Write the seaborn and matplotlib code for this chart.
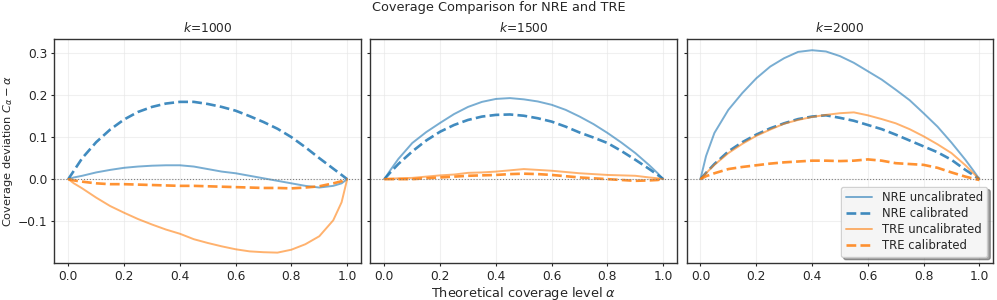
import numpy as np
import pandas as pd
import matplotlib
matplotlib.use("Agg")
import matplotlib.pyplot as plt
import seaborn as sns

alpha_grid = [0.0, 0.02, 0.05, 0.1, 0.15, 0.2, 0.25, 0.3, 0.35, 0.4, 0.45, 0.5,
              0.55, 0.6, 0.65, 0.7, 0.75, 0.8, 0.85, 0.9, 0.95, 0.98, 1.0]

k_values = [1000, 1500, 2000]

# k = 1000
nre_uncal_1000 = [0.0, 0.004, 0.008, 0.016, 0.022, 0.027, 0.030, 0.032, 0.033, 0.033, 0.030, 0.024,
                  0.018, 0.014, 0.008, 0.002, -0.004, -0.010, -0.016, -0.020, -0.016, -0.010, 0.0]
nre_cal_1000 = [0.0, 0.020, 0.05, 0.088, 0.118, 0.142, 0.160, 0.172, 0.180, 0.184, 0.184, 0.179,
                0.172, 0.163, 0.150, 0.136, 0.120, 0.100, 0.076, 0.050, 0.025, 0.010, 0.0]
tre_uncal_1000 = [0.0, -0.010, -0.022, -0.044, -0.064, -0.080, -0.095, -0.108, -0.120, -0.130, -0.143, -0.152,
                  -0.160, -0.167, -0.172, -0.174, -0.175, -0.168, -0.155, -0.136, -0.098, -0.055, 0.0]
tre_cal_1000 = [0.0, -0.003, -0.006, -0.010, -0.012, -0.012, -0.013, -0.014, -0.015, -0.016, -0.016, -0.017,
                -0.018, -0.019, -0.020, -0.021, -0.021, -0.022, -0.020, -0.017, -0.010, -0.005, 0.0]

# k = 1500
nre_uncal_1500 = [0.0, 0.020, 0.048, 0.086, 0.112, 0.134, 0.155, 0.172, 0.184, 0.191, 0.193, 0.190,
                  0.185, 0.177, 0.165, 0.149, 0.131, 0.110, 0.087, 0.062, 0.033, 0.014, 0.0]
nre_cal_1500 = [0.0, 0.015, 0.036, 0.066, 0.092, 0.113, 0.129, 0.141, 0.149, 0.153, 0.154, 0.151,
                0.145, 0.137, 0.125, 0.111, 0.099, 0.086, 0.067, 0.046, 0.024, 0.010, 0.0]
tre_uncal_1500 = [0.0, 0.001, 0.002, 0.003, 0.006, 0.009, 0.011, 0.015, 0.016, 0.018, 0.021, 0.024,
                  0.022, 0.020, 0.017, 0.014, 0.012, 0.010, 0.009, 0.008, 0.004, 0.002, 0.0]
tre_cal_1500 = [0.0, 0.0, 0.0, 0.000, 0.002, 0.004, 0.006, 0.008, 0.009, 0.010, 0.012, 0.013,
                0.012, 0.010, 0.007, 0.004, 0.002, 0.000, -0.002, -0.004, -0.003, -0.002, 0.0]

# k = 2000
nre_uncal_2000 = [0.0, 0.055, 0.110, 0.165, 0.205, 0.240, 0.268, 0.288, 0.303, 0.307, 0.304, 0.293,
                  0.277, 0.257, 0.237, 0.213, 0.188, 0.157, 0.125, 0.087, 0.046, 0.019, 0.0]
nre_cal_2000 = [0.0, 0.015, 0.036, 0.066, 0.088, 0.106, 0.121, 0.133, 0.143, 0.149, 0.152, 0.146,
                0.139, 0.129, 0.119, 0.106, 0.092, 0.078, 0.064, 0.046, 0.022, 0.009, 0.0]
tre_uncal_2000 = [0.0, 0.014, 0.034, 0.062, 0.084, 0.103, 0.118, 0.132, 0.141, 0.148, 0.153, 0.157,
                  0.159, 0.152, 0.143, 0.133, 0.119, 0.102, 0.083, 0.062, 0.033, 0.013, 0.0]
tre_cal_2000 = [0.0, 0.007, 0.014, 0.024, 0.029, 0.033, 0.037, 0.040, 0.042, 0.044, 0.044, 0.043,
                0.044, 0.047, 0.044, 0.038, 0.036, 0.034, 0.027, 0.016, 0.006, 0.001, -0.002]

series_labels = ["NRE uncalibrated", "NRE calibrated", "TRE uncalibrated", "TRE calibrated"]
panel_data = {
    1000: [nre_uncal_1000, nre_cal_1000, tre_uncal_1000, tre_cal_1000],
    1500: [nre_uncal_1500, nre_cal_1500, tre_uncal_1500, tre_cal_1500],
    2000: [nre_uncal_2000, nre_cal_2000, tre_uncal_2000, tre_cal_2000],
}

styles = [
    dict(color="#1f77b4", linestyle="-", linewidth=1.4, alpha=0.6),
    dict(color="#1f77b4", linestyle="--", linewidth=1.9, alpha=0.85),
    dict(color="#ff7f0e", linestyle="-", linewidth=1.4, alpha=0.6),
    dict(color="#ff7f0e", linestyle="--", linewidth=1.9, alpha=0.85),
]

sns.set_style("ticks")
plt.rcParams['font.family'] = ['DejaVu Sans']
plt.rcParams['axes.edgecolor'] = '#333333'

fig, axes = plt.subplots(1, 3, figsize=(9.97, 3.0), dpi=100, sharey=True)
fig.subplots_adjust(left=0.0545, right=0.9963, top=0.869, bottom=0.1243, wspace=0.0303)

for ax, k in zip(axes, k_values):
    for lab, vals, st in zip(series_labels, panel_data[k], styles):
        df = pd.DataFrame({"alpha": alpha_grid, "dev": vals})
        sns.lineplot(data=df, x="alpha", y="dev", ax=ax, label=lab, **st)
    ax.axhline(0.0, color="gray", linestyle=":", linewidth=0.8)
    ax.grid(True, color="#e6e6e6", linewidth=0.8, alpha=0.6)
    ax.set_title(f"$k$={k}", fontsize=8.8, pad=5)
    ax.set_xlabel("")
    ax.set_ylabel("")
    ax.set_xticks([0.0, 0.2, 0.4, 0.6, 0.8, 1.0])
    ax.tick_params(labelsize=8.8, length=2.5, pad=2.5)
    for sp in ax.spines.values():
        sp.set_linewidth(1.0)
    if ax is not axes[2]:
        leg = ax.get_legend()
        if leg is not None:
            leg.remove()

axes[0].set_ylim(-0.199, 0.333)
axes[0].set_yticks([-0.1, 0.0, 0.1, 0.2, 0.3])
axes[0].set_ylabel(r"Coverage deviation $C_\alpha - \alpha$", fontsize=8.2)
axes[0].yaxis.set_label_coords(-0.128, 0.5)
axes[1].set_xlabel(r"Theoretical coverage level $\alpha$", fontsize=9.3, labelpad=1.5)
axes[2].legend(loc="lower right", shadow=True, fontsize=8.4, framealpha=0.9,
               borderaxespad=0.5, fancybox=True, labelspacing=0.25, handlelength=2.3,
               handletextpad=0.8)
fig.suptitle("Coverage Comparison for NRE and TRE", fontsize=9.3, y=0.995)

fig.savefig("out.png", dpi=100)
